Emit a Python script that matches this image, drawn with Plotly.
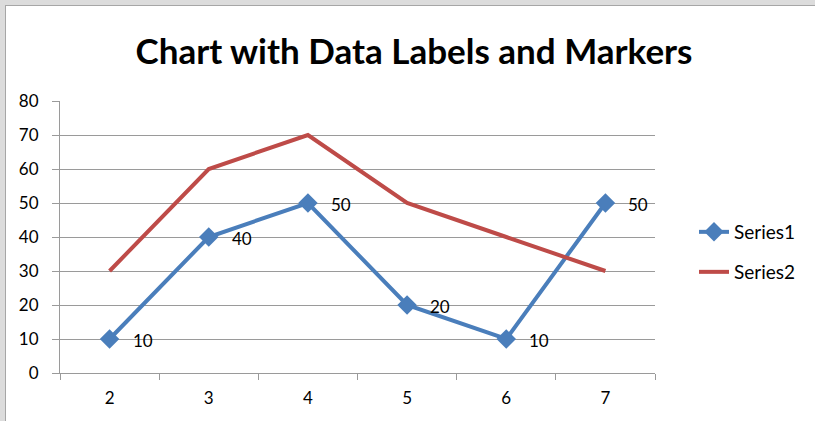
import plotly.graph_objects as go

categories = ["2", "3", "4", "5", "6", "7"]
series1 = [10, 40, 50, 20, 10, 50]
series2 = [30, 60, 70, 50, 40, 30]
y_ticks = [0, 10, 20, 30, 40, 50, 60, 70, 80]

BLUE = "#4a7ebb"
RED = "#be4b48"
FONT = "Lato, Open Sans, sans-serif"

W, H = 815, 421
L, R, T, B = 60, 160, 101, 48
pw, ph = W - L - R, H - T - B

def px_x(x):
    return (x - L) / pw

def px_y(y):
    return (H - B - y) / ph

fig = go.Figure()
fig.add_trace(go.Scatter(
    x=categories, y=series1, name="Series1", mode="lines+markers",
    line=dict(color=BLUE, width=4),
    marker=dict(symbol="diamond", size=15, color=BLUE),
    legend="legend",
))
fig.add_trace(go.Scatter(
    x=categories, y=series2, name="Series2", mode="lines",
    line=dict(color=RED, width=4),
    legend="legend2",
))

for i, v in enumerate(series1):
    fig.add_annotation(x=i, y=v, text=str(v), showarrow=False,
                       xanchor="left", yanchor="middle", xshift=21, yshift=-1,
                       font=dict(family=FONT, size=17, color="#000000"))

shapes = [
    dict(type="rect", xref="paper", yref="paper", x0=px_x(0), x1=px_x(W), y0=px_y(0), y1=px_y(5),
         fillcolor="#dcdcdc", line=dict(width=0), layer="above"),
    dict(type="rect", xref="paper", yref="paper", x0=px_x(0), x1=px_x(5), y0=px_y(0), y1=px_y(H),
         fillcolor="#dcdcdc", line=dict(width=0), layer="above"),
    dict(type="line", xref="paper", yref="paper", x0=px_x(5), x1=px_x(W), y0=px_y(5.5), y1=px_y(5.5),
         line=dict(color="#a6a6a6", width=1), layer="above"),
    dict(type="line", xref="paper", yref="paper", x0=px_x(5.5), x1=px_x(5.5), y0=px_y(5), y1=px_y(H),
         line=dict(color="#a6a6a6", width=1), layer="above"),
]

fig.update_layout(
    width=W, height=H,
    margin=dict(l=L, r=R, t=T, b=B),
    paper_bgcolor="white", plot_bgcolor="white",
    font=dict(family=FONT, size=17, color="#000000"),
    title=dict(text="<b>Chart with Data Labels and Markers</b>", x=414 / W, xref="container",
               y=1 - 52 / H, yanchor="middle", xanchor="center",
               font=dict(family=FONT, size=35, color="#000000")),
    showlegend=True,
    legend=dict(x=px_x(694), y=px_y(232), xanchor="left", yanchor="middle",
                font=dict(family=FONT, size=19), bgcolor="rgba(0,0,0,0)"),
    legend2=dict(x=px_x(694), y=px_y(272), xanchor="left", yanchor="middle",
                 font=dict(family=FONT, size=19), bgcolor="rgba(0,0,0,0)"),
    shapes=shapes,
    xaxis=dict(type="category", categoryorder="array", categoryarray=categories,
               range=[-0.5, 5.5], tickson="boundaries", ticks="outside", ticklen=6,
               tickcolor="#9a9a9a", showline=True, linecolor="#9a9a9a", linewidth=1,
               showgrid=False, tickfont=dict(size=17), zeroline=False,
               ticklabelstandoff=10),
    yaxis=dict(range=[0, 80], tickvals=y_ticks, ticks="outside", ticklen=7,
               tickcolor="#9a9a9a", showline=True, linecolor="#9a9a9a", linewidth=1,
               showgrid=True, gridcolor="#9a9a9a", gridwidth=1, zeroline=False,
               tickfont=dict(size=17), ticklabelstandoff=10),
)

fig.write_html("out.html", config={"displayModeBar": False},
               post_script="document.body.style.margin='0';document.body.style.overflow='hidden';")
